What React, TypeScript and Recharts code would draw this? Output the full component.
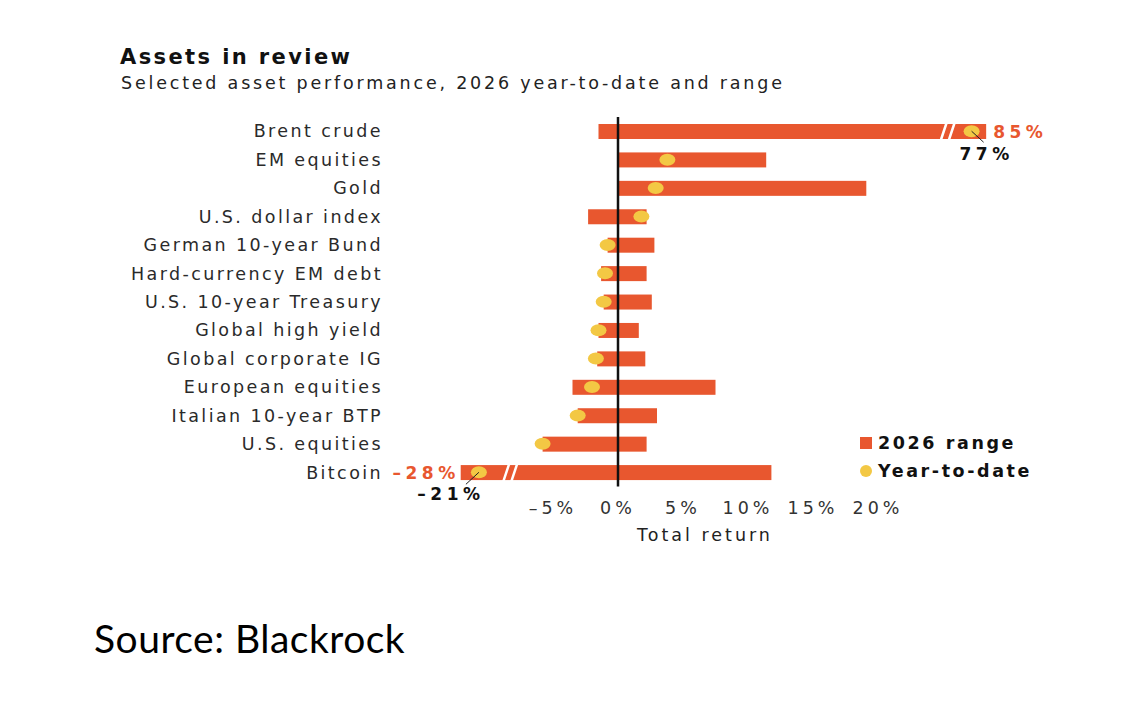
import React from 'react'
import { ComposedChart, Bar, Scatter, XAxis, YAxis, ReferenceLine, Legend } from 'recharts'

// asset rows, top to bottom
const assets = [
  'Brent crude',
  'EM equities',
  'Gold',
  'U.S. dollar index',
  'German 10-year Bund',
  'Hard-currency EM debt',
  'U.S. 10-year Treasury',
  'Global high yield',
  'Global corporate IG',
  'European equities',
  'Italian 10-year BTP',
  'U.S. equities',
  'Bitcoin',
]
// 2026 range (low / high) and year-to-date, in %
const rangeLow = [-1.5, 0, 0, -2.3, -0.8, -1.3, -1.1, -1.5, -1.6, -3.5, -3.1, -5.8, -28]
const rangeHigh = [85, 11.4, 19.1, 2.2, 2.8, 2.2, 2.6, 1.6, 2.1, 7.5, 3.0, 2.2, 11.8]
const ytdValues = [77, 3.8, 2.9, 1.8, -0.8, -1.0, -1.1, -1.5, -1.7, -2.0, -3.1, -5.8, -21]
const xTicks = [-5, 0, 5, 10, 15, 20]

const ORANGE = '#E8572F'
const YELLOW = '#F3C844'
const FONT = '"DejaVu Sans", sans-serif'

// broken axis: values beyond the cuts are squeezed into a short end segment
const HI_CUT = 25
const HI_EDGE = 25.8
const HI_RESUME = 67
const HI_K = 0.14
const LO_CUT = -8
const LO_EDGE = -8.5
const LO_RESUME = -10
const LO_K = 0.2

const toDisplay = (v: number) => {
  if (v > HI_CUT) return HI_EDGE + (v - HI_RESUME) * HI_K
  if (v < LO_CUT) return LO_EDGE + (v - LO_RESUME) * LO_K
  return v
}

const fmt = (v: number) => (v < 0 ? `\u2013${Math.abs(v)}%` : `${v}%`)

const rows = assets.map((name, i) => ({
  name,
  low: rangeLow[i],
  high: rangeHigh[i],
  ytd: ytdValues[i],
  span: [toDisplay(rangeLow[i]), toDisplay(rangeHigh[i])],
  ytdPos: toDisplay(ytdValues[i]),
}))

const labelStyle = { fontWeight: 'bold', fontSize: 17, letterSpacing: 4.5 } as const

const BreakMark = ({ gx, y, h }: { gx: number; y: number; h: number }) => (
  <g>
    <line x1={gx - 8} y1={y + h + 3} x2={gx - 1} y2={y - 3} stroke="#fff" strokeWidth={2.5} />
    <line x1={gx} y1={y + h + 3} x2={gx + 7} y2={y - 3} stroke="#fff" strokeWidth={2.5} />
  </g>
)

const RangeBar = (props: any) => {
  const { x, y, width, height, payload } = props
  const [lo, hi] = payload.span
  const px = (v: number) => x + ((v - lo) / (hi - lo)) * width
  const cy = y + height / 2
  return (
    <g>
      <rect x={x} y={y} width={width} height={height} fill={ORANGE} />
      {payload.high > HI_CUT && (
        <>
          <BreakMark gx={px((HI_CUT + HI_EDGE) / 2)} y={y} h={height} />
          <text x={x + width + 7} y={cy} dy="0.36em" fill={ORANGE} style={labelStyle}>
            {fmt(payload.high)}
          </text>
        </>
      )}
      {payload.low < LO_CUT && (
        <>
          <BreakMark gx={px((LO_CUT + LO_EDGE) / 2)} y={y} h={height} />
          <text x={x - 1} y={cy} dy="0.36em" textAnchor="end" fill={ORANGE} style={labelStyle}>
            {fmt(payload.low)}
          </text>
        </>
      )}
    </g>
  )
}

const YtdDot = (props: any) => {
  const { cx, cy, payload } = props
  if (cx == null || cy == null) return null
  return (
    <g>
      <ellipse cx={cx} cy={cy} rx={8} ry={6} fill={YELLOW} />
      {payload.ytd > HI_CUT && (
        <>
          <line x1={cx} y1={cy} x2={cx + 12} y2={cy + 11} stroke="#222" strokeWidth={1} />
          <text x={cx + 15} y={cy + 23} dy="0.36em" textAnchor="middle" fill="#111" style={labelStyle}>
            {fmt(payload.ytd)}
          </text>
        </>
      )}
      {payload.ytd < LO_CUT && (
        <>
          <line x1={cx} y1={cy} x2={cx - 13} y2={cy + 12} stroke="#222" strokeWidth={1} />
          <text x={cx - 28} y={cy + 22} dy="0.36em" textAnchor="middle" fill="#111" style={labelStyle}>
            {fmt(payload.ytd)}
          </text>
        </>
      )}
    </g>
  )
}

const renderLegend = (props: any) => {
  const { payload = [] } = props
  return (
    <div style={{ fontFamily: FONT }}>
      {payload.map((entry: any, i: number) => (
        <div key={`legend-${i}`} style={{ display: 'flex', alignItems: 'center', height: 28 }}>
          {entry.type === 'circle' ? (
            <span style={{ width: 12, height: 12, borderRadius: 6, background: YELLOW, marginRight: 6 }} />
          ) : (
            <span style={{ width: 12, height: 12, background: ORANGE, marginRight: 6 }} />
          )}
          <span style={{ fontSize: 17.5, fontWeight: 'bold', color: '#111', letterSpacing: 2.6 }}>{entry.value}</span>
        </div>
      ))}
    </div>
  )
}

export default function App() {
  return (
    <div style={{ position: 'absolute', left: 0, top: 0, width: 1141, height: 705, background: '#fff', fontFamily: FONT }}>
      <div style={{ position: 'absolute', left: 120, top: 47, fontSize: 21, lineHeight: 1, fontWeight: 'bold', color: '#111', letterSpacing: 2.4 }}>
        Assets in review
      </div>
      <div style={{ position: 'absolute', left: 121, top: 75, fontSize: 17.5, lineHeight: 1, color: '#222', letterSpacing: 2.8 }}>
        Selected asset performance, 2026 year-to-date and range
      </div>

      <ComposedChart
        width={1141}
        height={705}
        data={rows}
        layout="vertical"
        margin={{ top: 117, right: 133, bottom: 188.5, left: 0 }}
        barCategoryGap={0}
        style={{ position: 'absolute', left: 0, top: 0 }}
      >
        <XAxis
          type="number"
          domain={[-13, 30]}
          ticks={xTicks}
          tickFormatter={fmt}
          axisLine={false}
          tickLine={false}
          tickSize={0}
          tickMargin={15}
          height={30}
          tick={{ fill: '#333', fontSize: 17.5, letterSpacing: 4, fontFamily: FONT }}
        />
        <YAxis
          type="category"
          dataKey="name"
          width={449}
          axisLine={false}
          tickLine={false}
          tickSize={0}
          tickMargin={66}
          interval={0}
          tick={{ fill: '#2a2a2a', fontSize: 17.5, letterSpacing: 2.4, fontFamily: FONT }}
        />
        <Bar dataKey="span" name="2026 range" barSize={15} fill={ORANGE} shape={RangeBar} isAnimationActive={false} legendType="rect" />
        <ReferenceLine x={0} stroke="#111" strokeWidth={2.5} />
        <Scatter dataKey="ytdPos" name="Year-to-date" fill={YELLOW} shape={YtdDot} isAnimationActive={false} legendType="circle" />
        <Legend
          content={renderLegend}
          layout="vertical"
          align="center"
          verticalAlign="middle"
          wrapperStyle={{ left: 860, top: 429, width: 200 }}
        />
      </ComposedChart>

      <div style={{ position: 'absolute', left: 590, width: 230, top: 527, textAlign: 'center', fontSize: 17.5, lineHeight: 1, color: '#222', letterSpacing: 3 }}>
        Total return
      </div>
      <div style={{ position: 'absolute', left: 94, top: 619, fontFamily: 'Lato, sans-serif', fontSize: 39, lineHeight: 1, color: '#000', letterSpacing: 0.5 }}>
        Source: Blackrock
      </div>
    </div>
  )
}
